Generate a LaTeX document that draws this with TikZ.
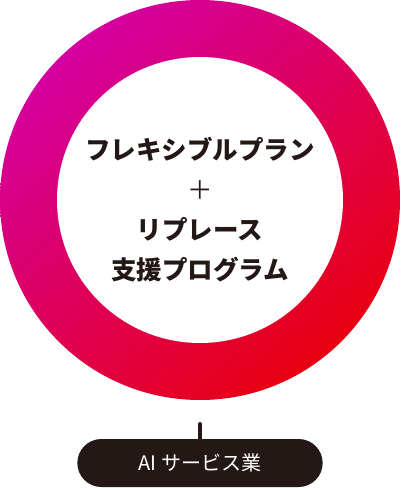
\documentclass[tikz,border=0pt]{standalone}
\usepackage{fontspec}
\setmainfont{Noto Sans CJK JP}
\usetikzlibrary{shapes.misc}
\definecolor{ringmag}{RGB}{212,0,160}
\definecolor{ringmid}{RGB}{221,0,96}
\definecolor{ringred}{RGB}{232,0,16}
\definecolor{pillink}{RGB}{35,24,21}
\begin{document}
\begin{tikzpicture}[x=1pt,y=1pt]
\useasboundingbox (0,-488) rectangle (400,0);
% ring
\shade[left color=ringmag, middle color=ringmid, right color=ringred, shading angle=40]
    (200,-200) circle (200);
\node[circle, fill=white, minimum size=286, inner sep=0] (hub) at (200,-200) {};
\node[align=center, text=pillink, font=\bfseries\fontsize{25.5}{40}\selectfont] (plan) at (200,-210)
    {フレキシブルプラン\\{\mdseries ＋}\\リプレース\\支援プログラム};
% bottom label
\node[rounded rectangle, fill=pillink, text=white, minimum width=252, minimum height=48,
    font=\fontsize{20}{22}\selectfont] (ai) at (200,-463) {AI サービス業};
\coordinate (stem) at (200,-424);
\draw[pillink, line width=4, line cap=round] (stem) -- (ai.north);
\end{tikzpicture}
\end{document}
